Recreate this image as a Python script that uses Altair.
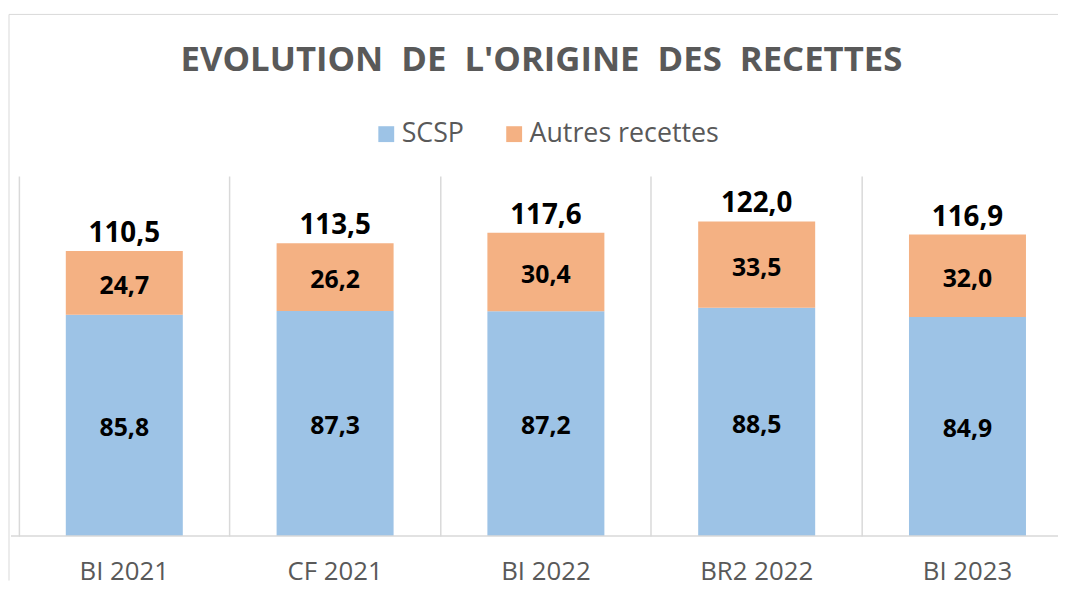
import altair as alt
import pandas as pd

categories = ["BI 2021", "CF 2021", "BI 2022", "BR2 2022", "BI 2023"]
scsp = [85.8, 87.3, 87.2, 88.5, 84.9]
autres = [24.7, 26.2, 30.4, 33.5, 32.0]
totals = [110.5, 113.5, 117.6, 122.0, 116.9]
series = ["SCSP", "Autres recettes"]
colors = ["#9DC3E6", "#F4B183"]
title_text = "EVOLUTION \u00a0DE \u00a0L'ORIGINE \u00a0DES \u00a0RECETTES"

rows = []
for i, c in enumerate(categories):
    rows.append({"cat": c, "serie": series[0], "ord": 0, "value": scsp[i]})
    rows.append({"cat": c, "serie": series[1], "ord": 1, "value": autres[i]})
df = pd.DataFrame(rows)
df_tot = pd.DataFrame({"cat": categories, "total": totals})

W = 1063
H = 363
FONT = "Open Sans"
GRID = "#D9D9D9"

xscale = alt.Scale(domain=categories, paddingInner=0, paddingOuter=0)
yscale = alt.Scale(domain=[0, 139.6], nice=False, zero=True)

base = alt.Chart(df).transform_stack(
    stack="value", groupby=["cat"], as_=["v0", "v1"], sort=[alt.SortField("ord", order="ascending")]
).transform_calculate(
    mid="(datum.v0 + datum.v1) / 2",
    lab="replace(format(datum.value, '.1f'), '.', ',')",
)

bars = base.mark_bar(size=118).encode(
    x=alt.X("cat:N", scale=xscale, sort=categories, title=None,
            axis=alt.Axis(grid=True, bandPosition=0, gridColor=GRID, gridWidth=1.5,
                          domain=False, ticks=False, labelAngle=0, labelFontSize=26,
                          labelColor="#595959", labelPadding=23, labelFont=FONT)),
    y=alt.Y("v0:Q", scale=yscale, axis=None),
    y2="v1:Q",
    color=alt.Color("serie:N", scale=alt.Scale(domain=series, range=colors),
                    legend=alt.Legend(title=None, orient="none", direction="horizontal",
                                      legendX=357, legendY=-56, padding=0,
                                      symbolType="square", symbolSize=256, symbolStrokeWidth=0,
                                      labelFontSize=27, labelColor="#595959", labelFont=FONT,
                                      labelOffset=2, columnPadding=37, labelLimit=400)),
)

seg_labels = base.mark_text(font=FONT, fontSize=25, fontWeight="bold", color="#000000",
                            baseline="middle", dy=3).encode(
    x=alt.X("cat:N", scale=xscale, sort=categories),
    y=alt.Y("mid:Q", scale=yscale),
    text="lab:N",
)

tot_labels = alt.Chart(df_tot).transform_calculate(
    lab="replace(format(datum.total, '.1f'), '.', ',')"
).mark_text(font=FONT, fontSize=28, fontWeight="bold", color="#000000",
            baseline="middle", dy=-17).encode(
    x=alt.X("cat:N", scale=xscale, sort=categories),
    y=alt.Y("total:Q", scale=yscale),
    text="lab:N",
)

frame_df = pd.DataFrame({"t": [title_text]})
title_mark = alt.Chart(frame_df).mark_text(
    font=FONT, fontSize=35, fontWeight="bold", color="#595959", baseline="alphabetic", align="center"
).encode(x=alt.value(527), y=alt.value(-106), text="t:N")

baseline_rule = alt.Chart(frame_df).mark_rule(color=GRID, strokeWidth=1.5).encode(
    x=alt.value(-8), x2=alt.value(W), y=alt.value(H)
)
top_border = alt.Chart(frame_df).mark_rule(color=GRID, strokeWidth=1).encode(
    x=alt.value(-10), x2=alt.value(W), y=alt.value(-163)
)
left_border = alt.Chart(frame_df).mark_rule(color=GRID, strokeWidth=1).encode(
    x=alt.value(-10), y=alt.value(-163), y2=alt.value(408)
)

chart = alt.layer(
    top_border, left_border, title_mark, bars, seg_labels, tot_labels, baseline_rule
).properties(
    width=W,
    height=H,
    padding={"left": 0, "top": 3, "right": -16, "bottom": 0},
).configure_view(stroke=None)

chart.save("out.html", embed_options={"renderer": "svg", "actions": False})
